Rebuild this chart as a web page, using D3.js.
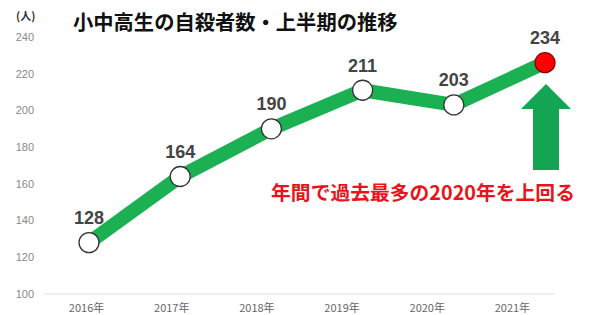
<!DOCTYPE html>
<html>
<head>
  <meta charset="utf-8">
  <script src="https://d3js.org/d3.v7.min.js"></script>
  <style>
    body { margin: 0; background: #fff; }
    svg { display: block; font-family: "Noto Sans CJK JP", "Noto Sans", sans-serif; }
  </style>
</head>
<body>
<script>
  // data
  var years = ["2016年", "2017年", "2018年", "2019年", "2020年", "2021年"];
  var counts = [128, 164, 190, 211, 203, 234];
  // the source draws the last point lower than its label says (about 226 on the axis)
  var plotted = [128, 164, 190, 211, 203, 226];
  var yTicks = [100, 120, 140, 160, 180, 200, 220, 240];

  var width = 600, height = 315;
  var numFont = "'Liberation Sans', Arial, sans-serif";

  var svg = d3.select("body").append("svg")
    .attr("width", width)
    .attr("height", height);

  var y = d3.scaleLinear().domain([100, 240]).range([294, 37]);

  // category axis for the year labels
  var x = d3.scaleBand().domain(years).range([44, 555]);
  // the line overlay in the source is spaced a little wider than the labels
  var xp = d3.scalePoint().domain(years).range([89, 545]);

  // y tick labels
  svg.selectAll(".ytick")
    .data(yTicks)
    .enter()
    .append("text")
      .attr("x", 34)
      .attr("y", function (d) { return y(d); })
      .attr("dy", "0.35em")
      .attr("text-anchor", "end")
      .style("font-family", numFont)
      .style("font-size", "11px")
      .style("fill", "#888")
      .text(function (d) { return d; });

  svg.append("text")
    .attr("x", 16)
    .attr("y", 20)
    .style("font-size", "11px")
    .style("font-weight", "bold")
    .style("fill", "#333")
    .text("(人)");

  // baseline
  svg.append("line")
    .attr("x1", 44).attr("x2", 555)
    .attr("y1", y(100)).attr("y2", y(100))
    .style("stroke", "#e0e0e0")
    .style("stroke-width", 1);

  // x labels
  svg.selectAll(".xtick")
    .data(years)
    .enter()
    .append("text")
      .attr("x", function (d) { return x(d) + x.bandwidth() / 2; })
      .attr("y", 308)
      .attr("dy", "0.35em")
      .attr("text-anchor", "middle")
      .style("font-size", "11px")
      .style("fill", "#666")
      .text(function (d) { return d; });

  // title
  svg.append("text")
    .attr("x", 73)
    .attr("y", 23)
    .attr("dy", "0.35em")
    .style("font-size", "20.3px")
    .style("font-weight", "bold")
    .style("fill", "#111")
    .text("小中高生の自殺者数・上半期の推移");

  // thick green line
  var line = d3.line()
    .x(function (d, i) { return xp(years[i]); })
    .y(function (d) { return y(d); });

  svg.append("path")
    .datum(plotted)
    .attr("d", line)
    .style("fill", "none")
    .style("stroke", "#1bb152")
    .style("stroke-width", 14)
    .style("stroke-linejoin", "round");

  // points
  svg.selectAll(".pt")
    .data(plotted)
    .enter()
    .append("circle")
      .attr("cx", function (d, i) { return xp(years[i]); })
      .attr("cy", function (d) { return y(d); })
      .attr("r", 10)
      .style("fill", function (d, i) { return i === plotted.length - 1 ? "#ff0000" : "#fff"; })
      .style("stroke", function (d, i) { return i === plotted.length - 1 ? "#8a0000" : "#333"; })
      .style("stroke-width", 1.3);

  // value labels
  svg.selectAll(".val")
    .data(counts)
    .enter()
    .append("text")
      .attr("x", function (d, i) { return xp(years[i]); })
      .attr("y", function (d, i) { return y(plotted[i]) - 25; })
      .attr("dy", "0.35em")
      .attr("text-anchor", "middle")
      .style("font-family", numFont)
      .style("font-size", "18px")
      .style("font-weight", "bold")
      .style("fill", "#444")
      .text(function (d) { return d; });

  // up arrow under the last point
  var ax = xp(years[5]) + 1;
  svg.append("path")
    .attr("d", "M" + (ax - 13) + ",170 L" + (ax - 13) + ",109 L" + (ax - 25) + ",109 L" + ax + ",84 L" +
      (ax + 25) + ",109 L" + (ax + 13) + ",109 L" + (ax + 13) + ",170 Z")
    .style("fill", "#13a552");

  // annotation
  svg.append("text")
    .attr("x", 423)
    .attr("y", 193)
    .attr("dy", "0.35em")
    .attr("text-anchor", "middle")
    .style("font-size", "19.8px")
    .style("font-weight", "bold")
    .style("fill", "#e8141c")
    .text("年間で過去最多の2020年を上回る");
</script>
</body>
</html>
